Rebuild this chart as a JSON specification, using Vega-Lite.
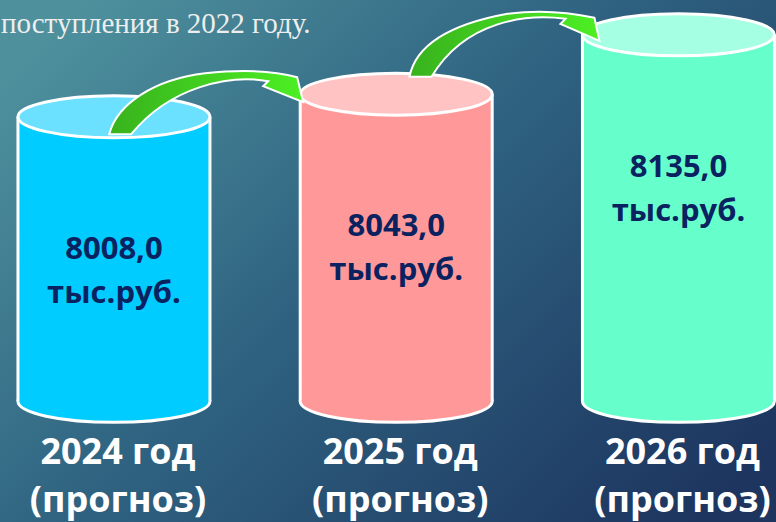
{
  "$schema": "https://vega.github.io/schema/vega-lite/v6.json",
  "width": 776,
  "height": 522,
  "autosize": {"type": "none"},
  "padding": 0,
  "background": "#1F3A60",
  "config": {
    "view": {"stroke": null},
    "locale": {"number": {"decimal": ",", "thousands": " ", "grouping": [3], "currency": ["", ""]}}
  },
  "data": {"values": [
    {"year": 2024, "value": 8008, "period": "2024 год"},
    {"year": 2025, "value": 8043, "period": "2025 год"},
    {"year": 2026, "value": 8135, "period": "2026 год"}
  ]},
  "encoding": {
    "x": {"field": "year", "type": "quantitative", "scale": {"domain": [2023.5963, 2026.3456], "nice": false, "zero": false}, "axis": null},
    "y": {"field": "value", "type": "quantitative", "scale": {"domain": [7380, 8189], "nice": false, "zero": false}, "axis": null}
  },
  "layer": [
    {
      "data": {"values": [{"bg": 1}]},
      "mark": {"type": "rect", "fill": {"gradient": "linear", "x1": 0, "y1": 0.15, "x2": 1, "y2": 0.85, "stops": [
        {"offset": 0, "color": "#4E919D"},
        {"offset": 0.45, "color": "#2F6381"},
        {"offset": 1, "color": "#1D355F"}
      ]}},
      "encoding": {"x": {"value": 0}, "x2": {"value": "width"}, "y": {"value": 0}, "y2": {"value": "height"}}
    },
    {
      "mark": {"type": "point", "shape": "M -96 0 A 96 21 0 1 0 96 0 A 96 21 0 1 0 -96 0 Z", "filled": true, "opacity": 1, "stroke": "white", "strokeWidth": 3},
      "encoding": {
        "y": {"datum": 7567},
        "size": {"value": 4},
        "fill": {"field": "year", "type": "nominal", "scale": {"domain": [2024, 2025, 2026], "range": ["#00CCFF", "#FF9999", "#66FFCC"]}, "legend": null}
      }
    },
    {
      "mark": {"type": "rule", "strokeWidth": 192, "strokeCap": "butt"},
      "encoding": {
        "y2": {"datum": 7567},
        "color": {"field": "year", "type": "nominal", "scale": {"domain": [2024, 2025, 2026], "range": ["#00CCFF", "#FF9999", "#66FFCC"]}, "legend": null}
      }
    },
    {
      "mark": {"type": "rule", "strokeWidth": 3, "color": "white", "xOffset": -96},
      "encoding": {"y2": {"datum": 7567}}
    },
    {
      "mark": {"type": "rule", "strokeWidth": 3, "color": "white", "xOffset": 96},
      "encoding": {"y2": {"datum": 7567}}
    },
    {
      "mark": {"type": "point", "shape": "M -96 0 A 96 21 0 1 0 96 0 A 96 21 0 1 0 -96 0 Z", "filled": true, "opacity": 1, "stroke": "white", "strokeWidth": 3},
      "encoding": {
        "size": {"value": 4},
        "fill": {"field": "year", "type": "nominal", "scale": {"domain": [2024, 2025, 2026], "range": ["#6BE1FF", "#FFC3C3", "#A5FFE2"]}, "legend": null}
      }
    },
    {
      "mark": {"type": "text", "font": "Open Sans", "fontWeight": "bold", "fontSize": 31, "color": "#0B2260", "dy": 142, "baseline": "alphabetic", "align": "center"},
      "encoding": {"text": {"field": "value", "type": "quantitative", "format": ".1f"}}
    },
    {
      "mark": {"type": "text", "font": "Open Sans", "fontWeight": "bold", "fontSize": 31, "color": "#0B2260", "dy": 186, "baseline": "alphabetic", "align": "center"},
      "encoding": {"text": {"value": "тыс.руб."}}
    },
    {
      "mark": {"type": "text", "font": "Open Sans", "fontWeight": "bold", "fontSize": 36, "color": "white", "dx": 4, "dy": -58, "baseline": "alphabetic", "align": "center"},
      "encoding": {"y": {"value": "height"}, "text": {"field": "period", "type": "nominal"}}
    },
    {
      "mark": {"type": "text", "font": "Open Sans", "fontWeight": "bold", "fontSize": 36, "color": "white", "dx": 4, "dy": -10, "baseline": "alphabetic", "align": "center"},
      "encoding": {"y": {"value": "height"}, "text": {"value": "(прогноз)"}}
    },
    {
      "data": {"values": [{"t": "поступления в 2022 году."}]},
      "mark": {"type": "text", "font": "Liberation Serif", "fontSize": 29, "color": "#EEEEEE", "dx": 1, "dy": 33, "baseline": "alphabetic", "align": "left"},
      "encoding": {"x": {"value": 0}, "y": {"value": 0}, "text": {"field": "t", "type": "nominal"}}
    },
    {
      "transform": [{"filter": "datum.year == 2025"}],
      "mark": {"type": "point", "shape": "M -287 40 C -279 9 -241 -15 -191 -21 C -151 -25 -121 -23 -99 -17 L -93 8 L -133 -8 L -128 -13 C -166 -20 -226 -8 -265 40 Z", "filled": true, "opacity": 1, "stroke": "white", "strokeWidth": 2,
        "fill": {"gradient": "linear", "x1": 0, "y1": 0, "x2": 1, "y2": 0, "stops": [{"offset": 0, "color": "#38B21D"}, {"offset": 1, "color": "#4DEF24"}]}},
      "encoding": {"size": {"value": 4}}
    },
    {
      "transform": [{"filter": "datum.year == 2026"}],
      "mark": {"type": "point", "shape": "M -269 42 C -263 12 -231 -10 -171 -21 C -141 -25 -111 -23 -84 -17 L -79 6 L -118 -11 L -113 -16 C -151 -21 -213 -15 -247 42 Z", "filled": true, "opacity": 1, "stroke": "white", "strokeWidth": 2,
        "fill": {"gradient": "linear", "x1": 0, "y1": 0, "x2": 1, "y2": 0, "stops": [{"offset": 0, "color": "#38B21D"}, {"offset": 1, "color": "#4DEF24"}]}},
      "encoding": {"size": {"value": 4}}
    }
  ],
  "resolve": {"scale": {"color": "independent", "fill": "independent"}}
}
